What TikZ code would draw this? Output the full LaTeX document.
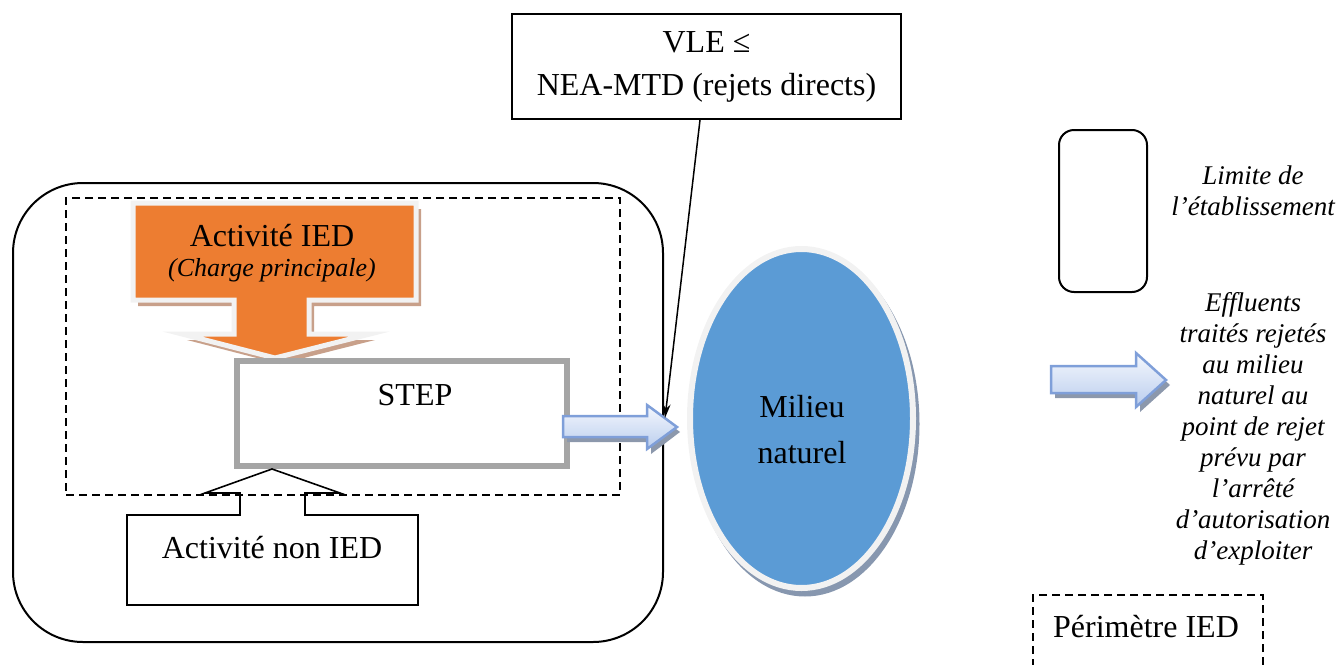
\documentclass[tikz,border=0pt]{standalone}
\usepackage{fontspec}
\setmainfont{Liberation Serif}
\usetikzlibrary{shapes.geometric,arrows.meta}

\definecolor{iedorange}{HTML}{ED7D31}
\definecolor{iedshadow}{HTML}{C8A08A}
\definecolor{stepgray}{HTML}{A5A5A5}
\definecolor{rimgray}{HTML}{F2F2F2}
\definecolor{waterblue}{HTML}{5B9BD5}
\definecolor{watershadow}{HTML}{8797AF}
\definecolor{flowline}{HTML}{7F9FD9}
\definecolor{flowtop}{HTML}{F5F8FD}
\definecolor{flowbot}{HTML}{BACDEE}
\definecolor{flowshadow}{HTML}{8C98AC}

\begin{document}
\begin{tikzpicture}[x=1pt,y=-1pt,
    every node/.style={font=\fontsize{32}{38}\selectfont},
    legend/.style={font=\fontsize{27}{31}\selectfont\itshape, align=center},
    flow/.style={draw=flowline, line width=2.5pt, top color=flowtop, bottom color=flowbot, line join=miter},
    limit/.style={draw, line width=2pt},
    perim/.style={draw, line width=2pt, dash pattern=on 8pt off 5pt}]

      \useasboundingbox (0,0) rectangle (1344,664);

      \begin{scope}[every node/.style={inner sep=0pt}]
        \node[limit, rounded corners=70pt, minimum width=650pt, minimum height=459pt] (etab) at (338,412.5) {};
        \node[perim, minimum width=554pt, minimum height=297pt] (ied) at (343,346.5) {};
        \node[limit, rounded corners=15pt, minimum width=88pt, minimum height=162pt] (leglim) at (1103,211) {};
        \node[perim, minimum width=230pt, minimum height=100pt] (legied) at (1148,645) {};
      \end{scope}

      % activite IED
      \fill[iedshadow] (138,209) -- (421,209) -- (421,306) -- (314,306) -- (314,340) -- (375,340)
        -- (280,364) -- (187,340) -- (239,340) -- (239,306) -- (138,306) -- cycle;
      \filldraw[fill=iedorange, draw=rimgray, line width=5pt, line join=miter]
        (133,203) -- (416,203) -- (416,300) -- (309,300) -- (309,334) -- (370,334)
        -- (275,358) -- (182,334) -- (234,334) -- (234,300) -- (133,300) -- cycle;
      \node (act) at (272,236) {Activité IED};
      \node[font=\fontsize{26}{31}\selectfont\itshape] (charge) at (272,270) {(Charge principale)};

      % STEP
      \node[draw=stepgray, line width=6pt, minimum width=330pt, minimum height=105pt] (step) at (402,413.5) {};
      \node (steptxt) at (415,395) {STEP};

      % activite non IED
      \draw[line width=1.6pt, line join=miter] (127,515) -- (240,515) -- (240,493) -- (205,493) -- (272,469)
        -- (340,493) -- (305,493) -- (305,515) -- (418,515) -- (418,605) -- (127,605) -- cycle;
      \node (nonied) at (272,548) {Activité non IED};

      % rejet
      \fill[flowshadow] (567,421) -- (651,421) -- (651,410) -- (680,432) -- (651,454) -- (651,442) -- (567,442) -- cycle;
      \path[flow] (563,416) -- (647,416) -- (647,405) -- (677,427) -- (647,449) -- (647,437) -- (563,437) -- cycle;

      % milieu naturel
      \node[ellipse, fill=watershadow, minimum width=229pt, minimum height=345pt] (ombre) at (805,424) {};
      \node[ellipse, fill=waterblue, draw=rimgray, line width=6pt, minimum width=223pt, minimum height=339pt] (milieu) at (801.5,418.5) {};
      \node[align=center] (milieutxt) at (802,430) {Milieu\\[8pt]naturel};

      % VLE
      \node[limit, minimum width=389pt, minimum height=105pt, align=center] (vle) at (706.5,66.5) {VLE ≤\\[5pt]NEA-MTD (rejets directs)};
      \coordinate (pointe) at (665,418);
      \draw[line width=1.5pt, -{Stealth[length=14pt,width=8pt]}] ([xshift=-6.5pt]vle.south) -- (pointe);

      % legende
      \node[legend] (leglimtxt) at (1253,191) {Limite de\\l’établissement};
      \fill[flowshadow] (1055,371) -- (1140,371) -- (1140,358) -- (1170,385) -- (1140,412) -- (1140,398) -- (1055,398) -- cycle;
      \path[flow] (1051,366) -- (1136,366) -- (1136,353) -- (1166,380) -- (1136,407) -- (1136,393) -- (1051,393) -- cycle;
      \node[legend] (legflow) at (1253,429) {Effluents\\traités rejetés\\au milieu\\naturel au\\point de rejet\\prévu par\\l’arrêté\\d’autorisation\\d’exploiter};
      \node (legiedtxt) at (1146,627) {Périmètre IED};

    \end{tikzpicture}
\end{document}
